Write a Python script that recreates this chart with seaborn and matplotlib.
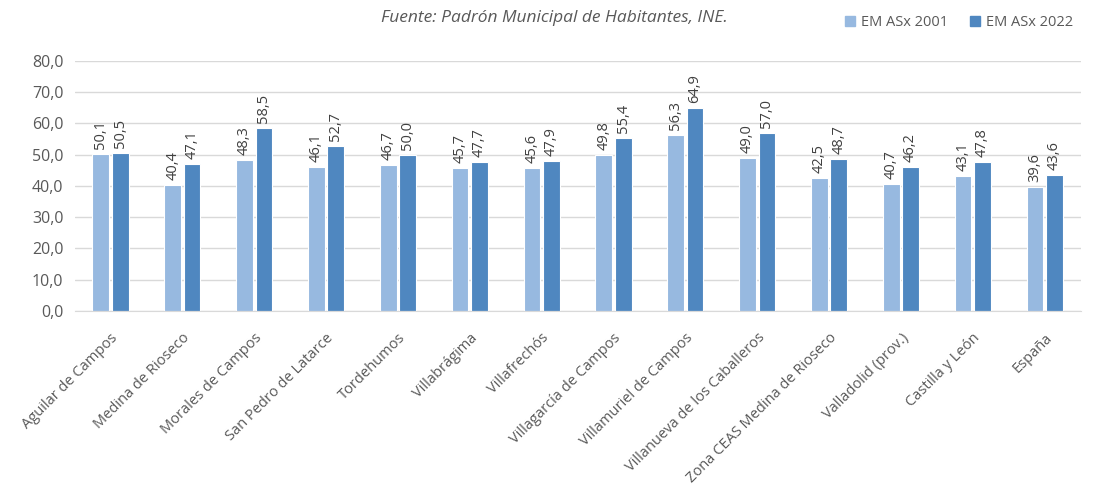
import pandas as pd
import matplotlib
matplotlib.use('Agg')
import matplotlib.pyplot as plt
import seaborn as sns

municipios = ['Aguilar de Campos', 'Medina de Rioseco', 'Morales de Campos', 'San Pedro de Latarce',
              'Tordehumos', 'Villabrágima', 'Villafrechós', 'Villagarcía de Campos',
              'Villamuriel de Campos', 'Villanueva de los Caballeros', 'Zona CEAS Medina de Rioseco',
              'Valladolid (prov.)', 'Castilla y León', 'España']
em_2001 = [50.1, 40.4, 48.3, 46.1, 46.7, 45.7, 45.6, 49.8, 56.3, 49.0, 42.5, 40.7, 43.1, 39.6]
em_2022 = [50.5, 47.1, 58.5, 52.7, 50.0, 47.7, 47.9, 55.4, 64.9, 57.0, 48.7, 46.2, 47.8, 43.6]
series = ['EM ASx 2001', 'EM ASx 2022']
colores = ['#97B9E0', '#4F87C0']

df = pd.DataFrame({'municipio': municipios * 2,
                   'serie': [series[0]] * len(municipios) + [series[1]] * len(municipios),
                   'valor': em_2001 + em_2022})

sns.set_style('white')
plt.rcParams['font.family'] = ['Open Sans', 'DejaVu Sans']
gris = '#595959'

fig = plt.figure(figsize=(10.97, 5.04), dpi=100)
ax = fig.add_axes([0.068, 0.383, 0.917, 0.496])

sns.barplot(data=df, x='municipio', y='valor', hue='serie', palette=colores, saturation=1,
            width=0.54, gap=0.14, ax=ax, legend=False, edgecolor='white', linewidth=0.8)

for cont in ax.containers:
    for bar in cont:
        h = bar.get_height()
        ax.text(bar.get_x() + bar.get_width() / 2, h + 1.6, f'{h:.1f}'.replace('.', ','),
                rotation=90, ha='center', va='bottom', fontsize=10.5, color='#404040')

ax.set_ylim(0, 80)
ax.set_yticks(range(0, 81, 10))
ax.set_yticklabels([f'{v},0' for v in range(0, 81, 10)], fontsize=11.5, color=gris)
ax.set_xlim(-0.5, len(municipios) - 0.5)
ax.set_xticks(range(len(municipios)))
ax.set_xticklabels(municipios, rotation=45, ha='right', rotation_mode='anchor', fontsize=10.5, color=gris)
ax.tick_params(axis='y', length=0, pad=8)
ax.tick_params(axis='x', length=0, pad=14)
ax.set_xlabel('')
ax.set_ylabel('')
ax.grid(axis='y', color='#D9D9D9', linewidth=1)
ax.set_axisbelow(True)
for s in ['top', 'right', 'left']:
    ax.spines[s].set_visible(False)
ax.spines['bottom'].set_color('#D9D9D9')

fig.text(0.505, 0.965, 'Fuente: Padrón Municipal de Habitantes, INE.', ha='center', va='center',
         fontsize=12.5, style='italic', color=gris)

handles = [plt.Rectangle((0, 0), 1, 1, color=c) for c in colores]
fig.legend(handles, series, loc='center right', bbox_to_anchor=(0.99, 0.955), ncol=2, frameon=False,
           fontsize=10.5, handlelength=0.7, handleheight=0.7, columnspacing=1.5, handletextpad=0.4,
           labelcolor=gris)

fig.savefig('out.png', dpi=100)
